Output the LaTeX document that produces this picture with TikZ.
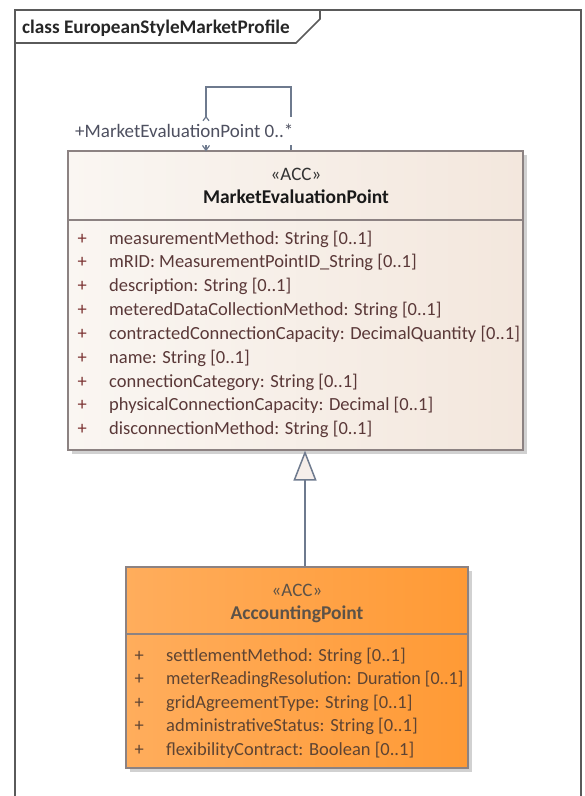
\documentclass[tikz,border=0pt]{standalone}
\usepackage{fontspec}
\setmainfont{Carlito}
\usetikzlibrary{arrows.meta,shadows,calc}
\definecolor{framecol}{HTML}{5A5A5A}
\definecolor{linecol}{HTML}{6E7A8E}
\definecolor{boxline}{HTML}{8C8282}
\definecolor{mepL}{HTML}{FAF6F2}
\definecolor{mepR}{HTML}{F3E7DD}
\definecolor{apL}{HTML}{FFAD5C}
\definecolor{apR}{HTML}{FF9A35}
\definecolor{attrcol}{HTML}{5A3838}
\definecolor{pluscol}{HTML}{7A3030}
\definecolor{apattr}{HTML}{5E4433}
\definecolor{apname}{HTML}{5C5248}
\definecolor{lblcol}{HTML}{4E5060}
\definecolor{tricol}{HTML}{F6EEEA}
\begin{document}
\begin{tikzpicture}[x=1pt,y=-1pt,
  classbox/.style={draw=boxline, line width=1.2pt, rectangle, inner sep=0pt,
    general shadow={fill=black!18, shadow xshift=3.5pt, shadow yshift=-3.5pt}},
  divline/.style={draw=boxline, line width=1.2pt},
  attrfont/.style={font=\fontsize{18.5}{22}\selectfont},
  attr/.style={anchor=base west, inner sep=0pt, attrfont, text=attrcol},
  plus/.style={anchor=base west, inner sep=0pt, attrfont, text=pluscol},
  apattrs/.style={anchor=base west, inner sep=0pt, attrfont, text=apattr},
  stereo/.style={anchor=base, inner sep=0pt, font=\fontsize{19}{22}\selectfont},
  cname/.style={anchor=base, inner sep=0pt, font=\fontsize{19.5}{23}\selectfont\bfseries},
  conn/.style={draw=linecol, line width=1.5pt}
]
\clip (0,0) rectangle (585,796);
\fill[white] (0,0) rectangle (585,796);

% frame
\draw[framecol, line width=1.6pt] (15,10) rectangle (581,810);
\draw[framecol, line width=1.6pt] (15,43) -- (296,43) -- (320,19) -- (320,10);
\node[anchor=base west, inner sep=0pt, font=\fontsize{19.2}{22}\selectfont\bfseries, text=black!85] (title) at (22,33) {class EuropeanStyleMarketProfile};

% MarketEvaluationPoint
\node[classbox, minimum width=455pt, minimum height=299pt, left color=mepL, right color=mepR] (mep) at (295.5,300.5) {};
\draw[divline] (mep.west |- 0,220) -- (mep.east |- 0,220);
\node[stereo, text=black!80] (mepst) at (296,180) {«ACC»};
\node[cname, text=black!90] (mepname) at (296,203) {MarketEvaluationPoint};
\foreach \t [count=\i from 0] in {
  {measurementMethod: String [0..1]},
  {mRID: MeasurementPointID\_String [0..1]},
  {description: String [0..1]},
  {meteredDataCollectionMethod: String [0..1]},
  {contractedConnectionCapacity: DecimalQuantity [0..1]},
  {name: String [0..1]},
  {connectionCategory: String [0..1]},
  {physicalConnectionCapacity: Decimal [0..1]},
  {disconnectionMethod: String [0..1]}} {
  \node[plus] (mepp\i) at (77.5,244+23.85*\i) {+};
  \node[attr] (mepa\i) at (109,244+23.85*\i) {\t};
}

% AccountingPoint
\node[classbox, minimum width=342pt, minimum height=201pt, left color=apL, right color=apR] (ap) at (297,667.5) {};
\draw[divline] (ap.west |- 0,634) -- (ap.east |- 0,634);
\node[stereo, text=apname] (apst) at (297,596) {«ACC»};
\node[cname, text=apname] (apnm) at (297,619) {AccountingPoint};
\foreach \t [count=\i from 0] in {
  {settlementMethod: String [0..1]},
  {\scalebox{0.974}[1]{meterReadingResolution: Duration [0..1]}},
  {gridAgreementType: String [0..1]},
  {administrativeStatus: String [0..1]},
  {flexibilityContract: Boolean [0..1]}} {
  \node[plus, text=apattr] (app\i) at (134.5,661+23.5*\i) {+};
  \node[apattrs] (apa\i) at (166,661+23.5*\i) {\t};
}

% generalization
\coordinate (gx) at (305,0);
\draw[conn, -{Triangle[length=30pt, width=23pt, fill=tricol]}] (gx |- ap.north) -- (gx |- mep.south);

% self association
\coordinate (sl) at (206,0);
\coordinate (sr) at (291,0);
\coordinate (stop) at (0,87);
\draw[conn, line width=1.4pt] (sr |- mep.north) -- (sr |- stop) -- (sl |- stop) -- (sl |- mep.north);
\node[anchor=base west, fill=white, inner xsep=1pt, inner ysep=3pt, text height=17pt, text depth=5pt, font=\fontsize{19}{22}\selectfont, text=lblcol] (lbl) at (74,137) {+MarketEvaluationPoint 0..*};
\draw[conn, line width=1.2pt] ($(sl |- lbl.north)+(-3,4)$) -- ($(sl |- lbl.north)+(0,0)$) -- ($(sl |- lbl.north)+(3,4)$);
\draw[conn, line width=1.2pt] ($(sl |- mep.north)+(-3.5,-5)$) -- (sl |- mep.north) -- ($(sl |- mep.north)+(3.5,-5)$);
\end{tikzpicture}
\end{document}
